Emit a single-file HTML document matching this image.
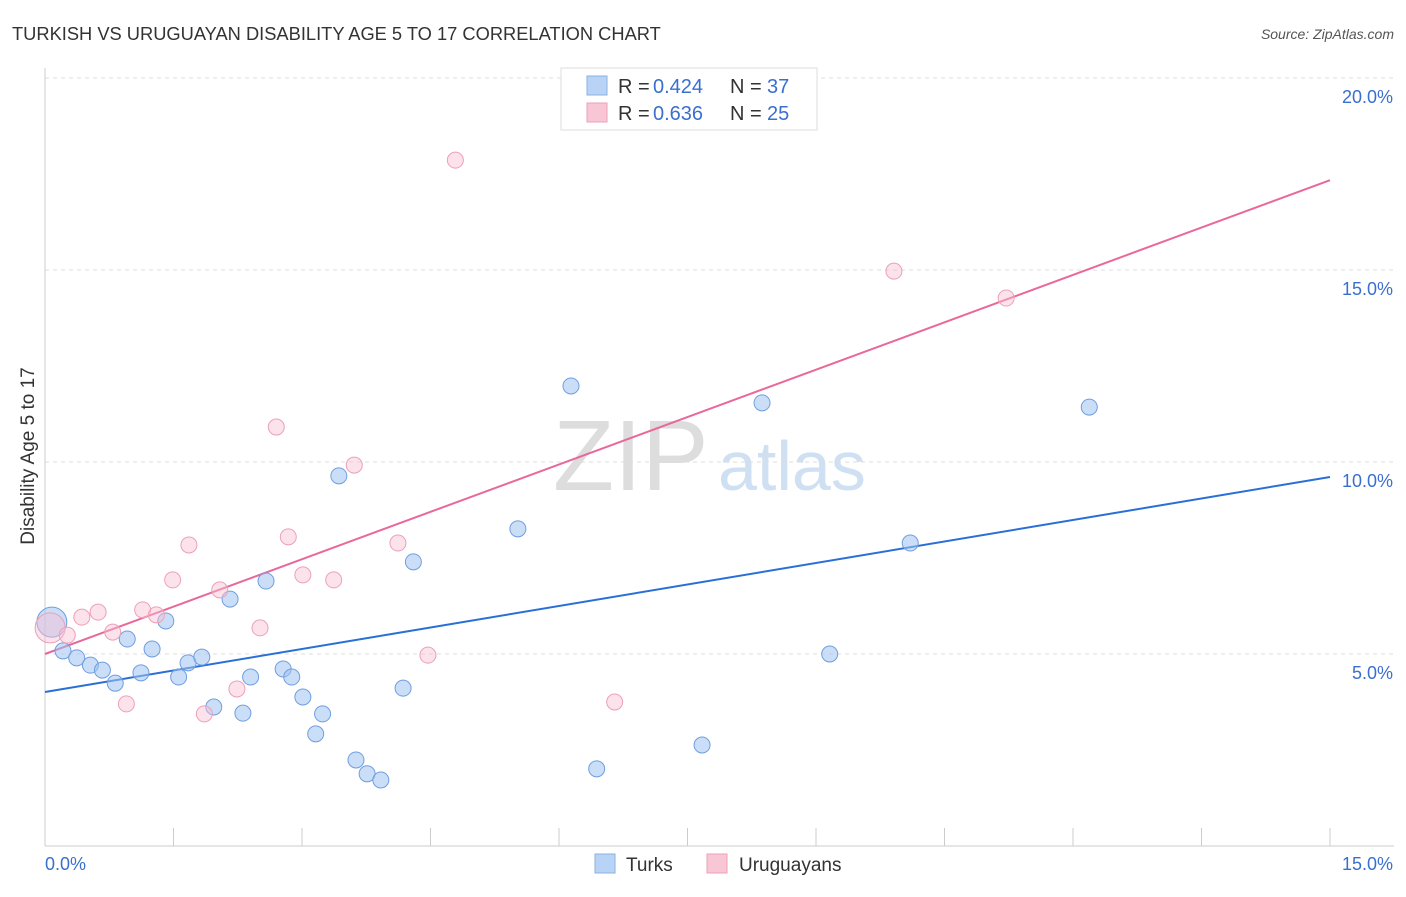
<!DOCTYPE html>
<html><head><meta charset="utf-8"><style>
body{margin:0;background:#fff;font-family:"Liberation Sans",sans-serif;}
svg text{font-family:"Liberation Sans",sans-serif;}
</style></head><body>
<svg id="chart" width="1406" height="892">
<text x="12" y="40" font-size="18.3" fill="#333">TURKISH VS URUGUAYAN DISABILITY AGE 5 TO 17 CORRELATION CHART</text>
<text x="1394" y="39" font-size="14" fill="#555" font-style="italic" text-anchor="end">Source: ZipAtlas.com</text>
<text x="34" y="456" font-size="19" fill="#333" text-anchor="middle" transform="rotate(-90 34 456)">Disability Age 5 to 17</text>
<text x="553" y="490" font-size="100" fill="#ddd" font-family="Liberation Serif">ZIP</text>
<text x="718" y="490" font-size="70" fill="#cfe0f3">atlas</text>
<g id="grid"></g><g id="axes"></g><g id="lines"></g><g id="pts"></g>
<g>
<rect x="561" y="68" width="256" height="62" fill="#fff" stroke="#ddd"/>
<rect x="587" y="76" width="20" height="19" fill="#b8d3f5" stroke="#8ab0e0"/>
<text x="618" y="93" font-size="20" fill="#333">R =</text><text x="653" y="93" font-size="20" fill="#3a6fd0">0.424</text>
<text x="730" y="93" font-size="20" fill="#333">N =</text><text x="767" y="93" font-size="20" fill="#3a6fd0">37</text>
<rect x="587" y="103" width="20" height="19" fill="#f9c6d6" stroke="#eca0b8"/>
<text x="618" y="120" font-size="20" fill="#333">R =</text><text x="653" y="120" font-size="20" fill="#3a6fd0">0.636</text>
<text x="730" y="120" font-size="20" fill="#333">N =</text><text x="767" y="120" font-size="20" fill="#3a6fd0">25</text>
</g>
<g>
<rect x="595" y="854" width="20" height="19" fill="#b8d3f5" stroke="#8ab0e0"/>
<text x="626" y="871" font-size="19" fill="#333">Turks</text>
<rect x="707" y="854" width="20" height="19" fill="#f9c6d6" stroke="#eca0b8"/>
<text x="739" y="871" font-size="19" fill="#333">Uruguayans</text>
</g>
</svg>
<script>
const yTicks=[5,10,15,20];
const yTickLabels=["5.0%","10.0%","15.0%","20.0%"];
const xTickLabels=["0.0%","15.0%"];
const turksX=[0.08,0.21,0.37,0.53,0.67,0.82,0.96,1.12,1.25,1.41,1.56,1.67,1.83,1.97,2.16,2.31,2.40,2.58,2.78,2.88,3.01,3.16,3.24,3.43,3.63,3.76,3.92,4.18,4.30,5.52,6.14,6.44,7.67,8.37,9.16,10.10,12.19];
const turksY=[5.83,5.08,4.90,4.71,4.58,4.24,5.39,4.51,5.13,5.86,4.40,4.77,4.92,3.62,6.43,3.46,4.40,6.90,4.61,4.40,3.88,2.92,3.44,9.64,2.24,1.88,1.72,4.11,7.40,8.26,11.98,2.01,2.63,11.54,5.00,7.89,11.43];
const urX=[0.06,0.26,0.43,0.62,0.79,0.95,1.14,1.30,1.49,1.68,1.86,2.04,2.24,2.51,2.70,2.84,3.01,3.37,3.61,4.12,4.47,4.79,6.65,9.91,11.22];
const urY=[5.68,5.49,5.96,6.09,5.57,3.70,6.15,6.02,6.93,7.84,3.44,6.67,4.09,5.68,10.91,8.05,7.06,6.93,9.92,7.89,4.97,17.86,3.75,14.97,14.27];
const turksLine=[4.01,9.61];
const urLine=[5.0,17.34];
const NS="http://www.w3.org/2000/svg";
const X=v=>45+v/15*1285, Y=v=>846-v*38.4;
function mk(p,t,a){const e=document.createElementNS(NS,t);for(const k in a)e.setAttribute(k,a[k]);document.getElementById(p).appendChild(e);return e;}
yTicks.forEach((t,i)=>{
 const g=mk('grid','line',{x1:45,x2:1394,y1:Y(t),y2:Y(t),stroke:'#ddd','stroke-dasharray':'4,4'});
 
 
 const l=mk('axes','text',{x:1393,y:Y(t)+25,'font-size':18,fill:'#3a6fd0','text-anchor':'end'});
 l.textContent=yTickLabels[i];
 
 
});
const xa=mk('axes','line',{x1:45,x2:1394,y1:846,y2:846,stroke:'#ccc'});


const ya=mk('axes','line',{x1:45,x2:45,y1:68,y2:846,stroke:'#ccc'});


for(let i=1;i<=10;i++){const t=mk('axes','line',{x1:X(i*1.5),x2:X(i*1.5),y1:828,y2:846,stroke:'#ccc'});
 
 }
const xl0=mk('axes','text',{x:45,y:870,'font-size':18,fill:'#3a6fd0'});xl0.textContent=xTickLabels[0];


const xl1=mk('axes','text',{x:1393,y:870,'font-size':18,fill:'#3a6fd0','text-anchor':'end'});xl1.textContent=xTickLabels[1];


function pts(xs,ys,fill,stroke,name){xs.forEach((x,i)=>{const c=mk('pts','circle',{cx:X(x),cy:Y(ys[i]),r:i==0?15:8,fill:fill,stroke:stroke,'stroke-width':1});
 
 });}
pts(turksX,turksY,'rgba(160,195,240,0.55)','#6f9ee0','turks-point');
pts(urX,urY,'rgba(249,190,210,0.45)','#eca0b8','uruguayans-point');
const l1=mk('lines','line',{x1:X(0),y1:Y(turksLine[0]),x2:X(15),y2:Y(turksLine[1]),stroke:'#2a6fd6','stroke-width':2});


const l2=mk('lines','line',{x1:X(0),y1:Y(urLine[0]),x2:X(15),y2:Y(urLine[1]),stroke:'#e8689a','stroke-width':2});


</script>
</body></html>
